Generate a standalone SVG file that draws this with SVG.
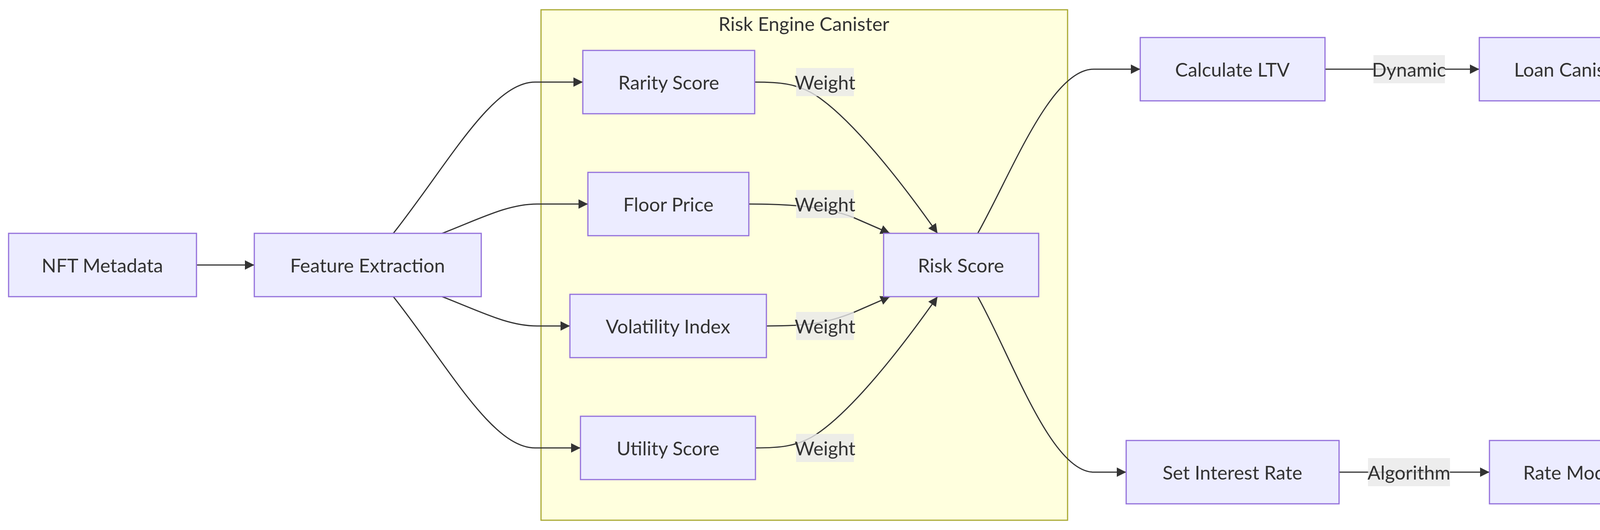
<svg xmlns="http://www.w3.org/2000/svg" width="4284" height="1356" viewBox="0 0 4284 1356">
<style>
.node rect{fill:#ECECFF;stroke:#9370DB;stroke-width:3}
.node text,.lbl text,.title{font-family:Lato,"Liberation Sans",Arial,sans-serif;font-size:49px;fill:#333333;text-anchor:middle;dominant-baseline:central}
.edge{fill:none;stroke:#333333;stroke-width:3;marker-end:url(#arrow)}
.lbl rect{fill:#e8e8e8;fill-opacity:0.8}
</style>
<defs>
<marker id="arrow" viewBox="0 0 10 10" refX="10" refY="5" markerUnits="userSpaceOnUse" markerWidth="24" markerHeight="24" orient="auto">
<path d="M0,0 L10,5 L0,10 z" fill="#333333"/>
</marker>
</defs>
<rect width="4284" height="1356" fill="#ffffff"/>
<g id="cluster-risk-engine">
<rect x="1385" y="25" width="1348" height="1306" fill="#ffffde" stroke="#aaaa33" stroke-width="3"/>
<text class="title" x="2058" y="60">Risk Engine Canister</text>
</g>
<g id="connectors">
<path class="edge" d="M503,678 L651,678"/>
<path class="edge" d="M1007,597 C1150,415 1260,210 1370,210 L1492,210"/>
<path class="edge" d="M1132,597 C1230,559 1300,522 1375,522 L1505,522"/>
<path class="edge" d="M1132,759 C1230,797 1300,834 1375,834 L1459,834"/>
<path class="edge" d="M1007,759 C1150,941 1260,1146 1370,1146 L1486,1146"/>
<path class="edge" d="M1932,210 C1990,210 2040,212 2090,245 C2180,305 2300,455 2400,597"/>
<path class="edge" d="M1917,522 C2010,522 2112,527 2186,557 L2278,597"/>
<path class="edge" d="M1962,834 C2060,834 2112,829 2186,799 L2278,759"/>
<path class="edge" d="M1934,1146 C1990,1146 2040,1144 2090,1111 C2180,1051 2300,901 2400,759"/>
<path class="edge" d="M2503,597 C2590,442 2690,177 2800,177 L2919,177"/>
<path class="edge" d="M2503,759 C2590,914 2690,1208 2800,1208 L2883,1208"/>
<path class="edge" d="M3392,177 L3787,177"/>
<path class="edge" d="M3428,1208 L3813,1208"/>
<g class="lbl"><rect x="2038" y="174" width="148" height="72"/><text x="2112" y="210">Weight</text></g>
<g class="lbl"><rect x="2038" y="486" width="148" height="72"/><text x="2112" y="522">Weight</text></g>
<g class="lbl"><rect x="2038" y="798" width="148" height="72"/><text x="2112" y="834">Weight</text></g>
<g class="lbl"><rect x="2038" y="1110" width="148" height="72"/><text x="2112" y="1146">Weight</text></g>
<g class="lbl"><rect x="3516" y="141" width="183" height="72"/><text x="3607" y="177">Dynamic</text></g>
<g class="lbl"><rect x="3502" y="1172" width="210" height="72"/><text x="3607" y="1208">Algorithm</text></g>
</g>
<g id="nft-metadata" class="node"><rect x="22" y="597" width="481" height="162"/><text x="262" y="678">NFT Metadata</text></g>
<g id="feature-extraction" class="node"><rect x="651" y="597" width="581" height="162"/><text x="941" y="678">Feature Extraction</text></g>
<g id="rarity-score" class="node"><rect x="1492" y="129" width="440" height="162"/><text x="1712" y="210">Rarity Score</text></g>
<g id="floor-price" class="node"><rect x="1505" y="441" width="412" height="162"/><text x="1711" y="522">Floor Price</text></g>
<g id="volatility-index" class="node"><rect x="1459" y="753" width="503" height="162"/><text x="1710" y="834">Volatility Index</text></g>
<g id="utility-score" class="node"><rect x="1486" y="1065" width="448" height="162"/><text x="1710" y="1146">Utility Score</text></g>
<g id="risk-score" class="node"><rect x="2262" y="597" width="397" height="162"/><text x="2460" y="678">Risk Score</text></g>
<g id="calculate-ltv" class="node"><rect x="2919" y="96" width="473" height="162"/><text x="3155" y="177">Calculate LTV</text></g>
<g id="loan-canister" class="node"><rect x="3787" y="96" width="473" height="162"/><text x="4023" y="177">Loan Canister</text></g>
<g id="set-interest-rate" class="node"><rect x="2883" y="1127" width="545" height="162"/><text x="3155" y="1208">Set Interest Rate</text></g>
<g id="rate-model" class="node"><rect x="3813" y="1127" width="420" height="162"/><text x="4023" y="1208">Rate Model</text></g>
</svg>
